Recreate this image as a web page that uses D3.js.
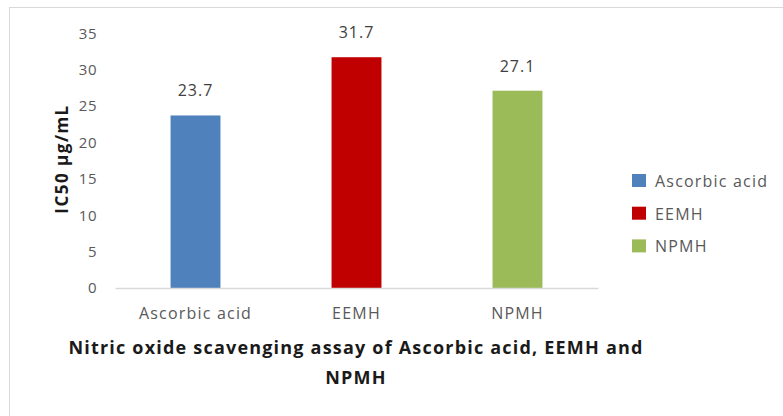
<!DOCTYPE html>
<html><head><meta charset="utf-8">
<script src="https://cdn.jsdelivr.net/npm/d3@7"></script>
<style>body{margin:0;background:#fff}svg{display:block}text{font-family:"Open Sans",sans-serif}</style>
</head><body>
<svg id="c" width="783" height="416"></svg>
<script>
const categories = ["Ascorbic acid", "EEMH", "NPMH"];
const values = [23.7, 31.7, 27.1];
const colors = ["#4F81BD", "#C00000", "#9BBB59"];
const yTicks = [0, 5, 10, 15, 20, 25, 30, 35];
const yTitle = "IC50 µg/mL";
const titleLines = ["Nitric oxide scavenging assay of Ascorbic acid, EEMH and", "NPMH"];

const svg = d3.select("#c");
svg.append("rect").attr("x", 9.5).attr("y", 7.5).attr("width", 790).attr("height", 420)
  .attr("fill", "#fff").attr("stroke", "#d9d9d9");

const x = d3.scaleBand().domain(categories).range([115, 598]).paddingInner(0.69).paddingOuter(0.345);
const y = d3.scaleLinear().domain([0, 35]).range([288, 33.2]);

// y tick labels
const yAxis = d3.axisLeft(y).tickValues(yTicks).tickSize(0).tickPadding(0);
const gy = svg.append("g").attr("transform", "translate(97,0)").call(yAxis);
gy.select(".domain").remove();
gy.selectAll("text").attr("fill", "#595959").style("font-size", "15px")
  .style("letter-spacing", "0.5px").style("font-family", "'Open Sans',sans-serif");

// bars
svg.selectAll("rect.bar").data(categories).enter().append("rect").attr("class", "bar")
  .attr("x", d => x(d)).attr("width", x.bandwidth())
  .attr("y", (d, i) => y(values[i])).attr("height", (d, i) => y(0) - y(values[i]))
  .attr("fill", (d, i) => colors[i]);

// baseline & x labels
const xAxis = d3.axisBottom(x).tickSize(0).tickPadding(20);
const gx = svg.append("g").attr("transform", "translate(0,288)").call(xAxis);
gx.select(".domain").attr("stroke", "#d9d9d9").attr("stroke-width", 1.5);
gx.selectAll("text").attr("fill", "#595959").style("font-size", "16px")
  .style("letter-spacing", "1.2px").style("font-family", "'Open Sans',sans-serif");

// value labels
svg.selectAll("text.val").data(categories).enter().append("text").attr("class", "val")
  .attr("x", d => x(d) + x.bandwidth() / 2).attr("y", (d, i) => y(values[i]) - 19)
  .attr("text-anchor", "middle").attr("fill", "#404040").style("font-size", "16px")
  .style("letter-spacing", "1px").text((d, i) => values[i].toFixed(1));

// y title
svg.append("text").attr("transform", "translate(68,159) rotate(-90)").attr("text-anchor", "middle")
  .attr("fill", "#1a1a1a").style("font-size", "17px").style("font-weight", "bold")
  .style("letter-spacing", "1.5px").text(yTitle);

// title
svg.selectAll("text.title").data(titleLines).enter().append("text").attr("class", "title")
  .attr("x", 356).attr("y", (d, i) => 353.5 + i * 30.5).attr("text-anchor", "middle")
  .attr("fill", "#1a1a1a").style("font-size", "18px").style("font-weight", "bold")
  .style("letter-spacing", "1.2px").text(d => d);

// legend
const lg = svg.selectAll("g.leg").data(categories).enter().append("g").attr("class", "leg")
  .attr("transform", (d, i) => `translate(632,${187 + i * 32.7})`);
lg.append("rect").attr("x", 0).attr("y", -13).attr("width", 14).attr("height", 13).attr("fill", (d, i) => colors[i]);
lg.append("text").attr("x", 23).attr("y", 0).attr("fill", "#595959").style("font-size", "16px")
  .style("letter-spacing", "1.2px").text(d => d);
</script>
</body></html>
